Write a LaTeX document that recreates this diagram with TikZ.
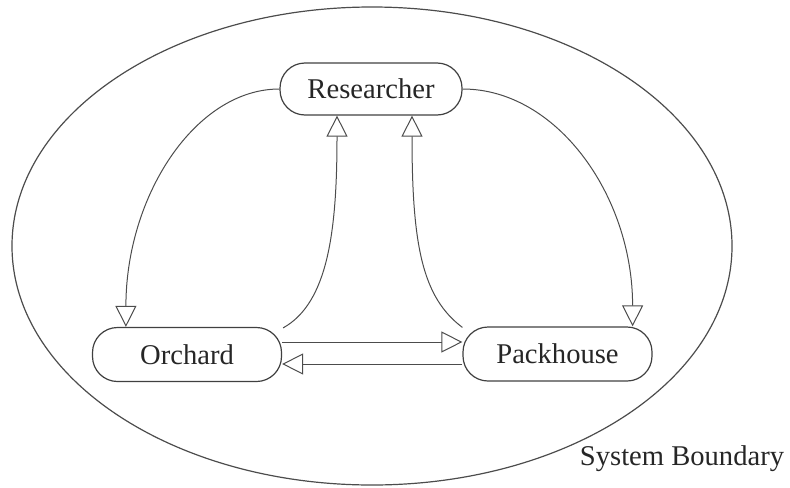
\documentclass[tikz,border=0pt]{standalone}
\usepackage{fontspec}
\setmainfont{Liberation Serif}
\usetikzlibrary{arrows.meta,calc}

\tikzset{
  entity/.style={draw=black!75, line width=0.6pt, rectangle, rounded corners=12.5pt,
    minimum width=94.5pt, minimum height=27pt, inner sep=0pt, text=black!85,
    font=\fontsize{14.3}{17}\selectfont},
  flow/.style={draw=black!70, line width=0.5pt,
    -{Triangle[open, length=10.5pt, width=10.5pt, line width=0.5pt]}},
  boundary/.style={draw=black!70, line width=0.6pt},
  caption/.style={text=black!85, font=\fontsize{14.3}{17}\selectfont, inner sep=0pt}
}

\begin{document}
\begin{tikzpicture}[x=0.5pt, y=-0.5pt]
  \useasboundingbox (0,0) rectangle (790,487);

  % system boundary
  \draw[boundary] (372,246) ellipse [x radius=360, y radius=239];
  \node[caption, anchor=base] (sb) at (682,465) {System Boundary};

  % entities
  \node[entity, minimum width=91pt, minimum height=26pt] (R) at (371,89) {Researcher};
  \node[entity] (O) at (187,354.5) {Orchard};
  \node[entity] (P) at (557.5,354) {Packhouse};

  % researcher feeds both sites
  \draw[flow] (R.west) .. controls +(-84,0) and +(0,-131) .. ($(O.north west)+(34,0)$);
  \draw[flow] (R.east) .. controls +(94,0) and +(0,-131) .. ($(P.north east)+(-20,0)$);

  % sites report back to the researcher
  \draw[flow] ($(O.north east)+(1,1)$) .. controls +(45,-25) and +(0,115) .. ($(R.south)+(-34,0)$);
  \draw[flow] ($(P.north west)+(0,1)$) .. controls +(-40,-30) and +(0,130) .. ($(R.south)+(41,0)$);

  % exchange between orchard and packhouse
  \draw[flow] ($(O.east)+(0,-12.5)$) -- ($(P.west)+(0,-12)$);
  \draw[flow] ($(P.west)+(0,10)$) -- ($(O.east)+(0,9.5)$);
\end{tikzpicture}
\end{document}
